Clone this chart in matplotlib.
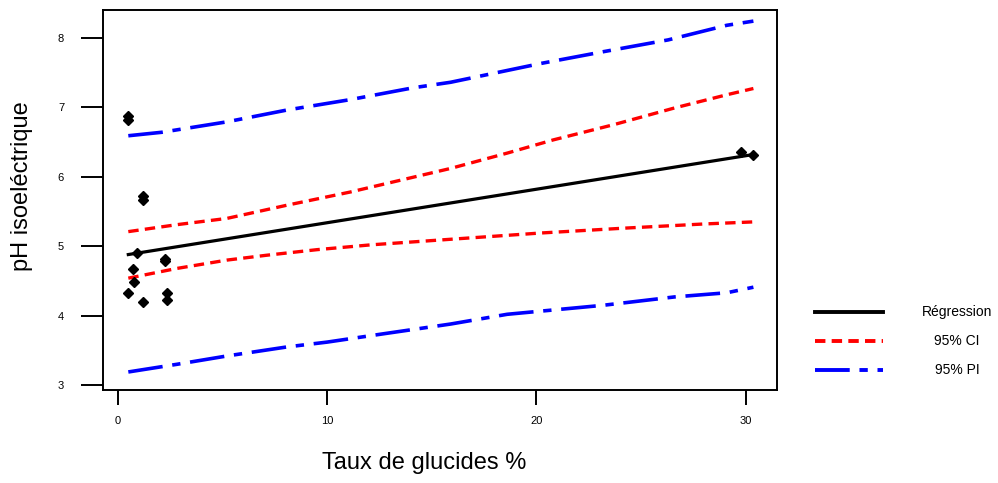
"""Régression pH isoélectrique vs taux de glucides, avec bandes IC / IP."""

import matplotlib
matplotlib.use("Agg")
import matplotlib.pyplot as plt
from matplotlib.lines import Line2D

plt.rcParams["font.family"] = ["Liberation Sans", "DejaVu Sans"]
plt.rcParams["lines.scale_dashes"] = False

# ---------------------------------------------------------------------------
# Data
# ---------------------------------------------------------------------------
pts_x = [0.49, 0.49, 1.18, 1.18, 0.91, 0.70, 0.78, 2.25, 2.25, 0.49, 1.18,
         2.36, 2.36, 29.76, 30.37]
pts_y = [6.88, 6.81, 5.72, 5.66, 4.90, 4.67, 4.49, 4.81, 4.78, 4.32, 4.19,
         4.32, 4.22, 6.36, 6.32]

reg_x = [0.49, 30.37]
reg_y = [4.88, 6.32]

ci_up_x = [0.49, 2.81, 5.2, 8.07, 11.1, 13.5, 15.9, 18.6, 20.8, 23.7, 26.6, 29.1, 30.37]
ci_up_y = [5.21, 5.31, 5.40, 5.59, 5.78, 5.95, 6.12, 6.34, 6.53, 6.75, 6.99, 7.18, 7.27]

ci_lo_x = [0.49, 2.81, 5.2, 7.1, 9.5, 12.1, 15.9, 20.2, 24.2, 28.0, 30.37]
ci_lo_y = [4.54, 4.68, 4.80, 4.87, 4.95, 5.02, 5.10, 5.19, 5.26, 5.32, 5.35]

pi_up_x = [0.49, 2.09, 5.2, 8.07, 11.1, 14.1, 15.9, 20.2, 23.2, 26.3, 29.1, 30.37]
pi_up_y = [6.59, 6.64, 6.79, 6.96, 7.11, 7.28, 7.36, 7.63, 7.80, 7.97, 8.18, 8.24]

pi_lo_x = [0.49, 2.81, 5.2, 8.07, 10.0, 12.7, 15.9, 18.6, 23.2, 26.6, 29.1, 30.37]
pi_lo_y = [3.19, 3.30, 3.42, 3.55, 3.62, 3.74, 3.88, 4.02, 4.15, 4.27, 4.33, 4.41]

x_ticks = [0, 10, 20, 30]
y_ticks = [3, 4, 5, 6, 7, 8]
legend_labels = ["Régression", "95% CI", "95% PI"]

# ---------------------------------------------------------------------------
# Styles
# ---------------------------------------------------------------------------
RED_DASH = (0, (7.5, 4.5))
BLUE_DASH = (0, (25, 7, 6, 7))

fig = plt.figure(figsize=(9.98, 4.83), dpi=100)
ax = fig.add_axes([0.1032, 0.1925, 0.6754, 0.7868])

ax.plot(reg_x, reg_y, color="black", linewidth=2.3, zorder=3)
ax.plot(ci_up_x, ci_up_y, color="red", linewidth=2.4, linestyle=RED_DASH, zorder=2)
ax.plot(ci_lo_x, ci_lo_y, color="red", linewidth=2.4, linestyle=RED_DASH, zorder=2)
ax.plot(pi_up_x, pi_up_y, color="blue", linewidth=2.6, linestyle=BLUE_DASH, zorder=2)
ax.plot(pi_lo_x, pi_lo_y, color="blue", linewidth=2.6, linestyle=BLUE_DASH, zorder=2)
ax.plot(pts_x, pts_y, linestyle="none", marker="D", markersize=4.8,
        color="black", zorder=4)

ax.set_xlim(-0.72, 31.5)
ax.set_ylim(2.93, 8.40)
ax.set_xticks(x_ticks)
ax.set_yticks(y_ticks)
ax.tick_params(axis="x", length=11, width=1.4, pad=8, labelsize=8)
ax.tick_params(axis="y", length=16, width=1.4, pad=12, labelsize=8)
for sp in ax.spines.values():
    sp.set_linewidth(1.4)

ax.set_xlabel("Taux de glucides %", fontsize=17)
ax.set_ylabel("pH isoeléctrique", fontsize=17)
# R places the titles slightly off-centre here
ax.xaxis.set_label_coords(0.476, -0.163)
ax.yaxis.set_label_coords(-0.104, 0.537)

# Legend drawn outside the axes, R style
handles = [
    Line2D([], [], color="black", linewidth=2.8),
    Line2D([], [], color="red", linewidth=2.8, linestyle=RED_DASH),
    Line2D([], [], color="blue", linewidth=2.8, linestyle=BLUE_DASH),
]
leg_y = [312, 341, 370]
for h, lab, py in zip(handles, legend_labels, leg_y):
    yf = 1 - py / 483
    h.set_data([815 / 998, 883 / 998], [yf, yf])
    h.set_transform(fig.transFigure)
    fig.add_artist(h)
    fig.text(957 / 998, yf, lab, ha="center", va="center", fontsize=10)

fig.savefig("out.png", dpi=100)
